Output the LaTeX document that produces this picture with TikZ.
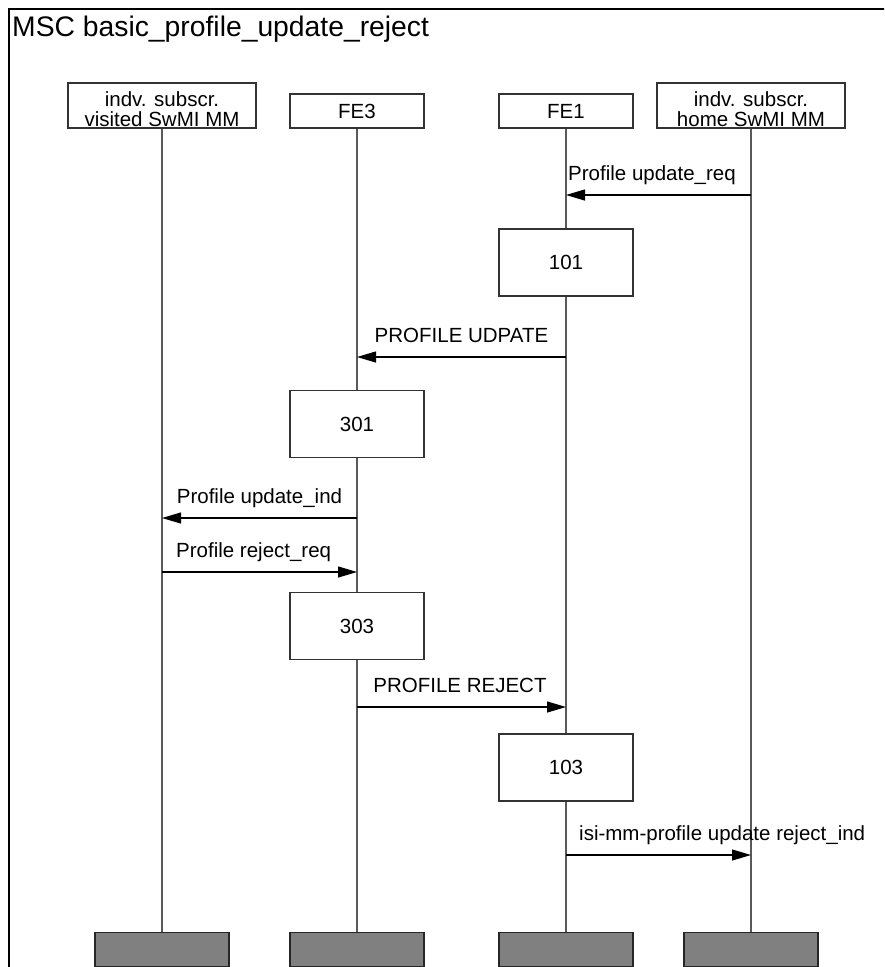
\documentclass[tikz,border=0pt]{standalone}
\usepackage{fontspec}
\setmainfont{Liberation Sans}
\usetikzlibrary{arrows.meta}
\begin{document}
\begin{tikzpicture}[x=1pt,y=-1pt,
  lbl/.style={font=\fontsize{20.5}{20}\selectfont, inner sep=0pt},
  headbox/.style={draw=black!80, line width=1.2pt, fill=white, minimum width=134pt, minimum height=34pt, inner sep=0pt, font=\fontsize{20.5}{20}\selectfont},
  widehead/.style={headbox, minimum width=188pt, minimum height=45pt},
  actbox/.style={headbox, minimum height=67pt},
  footbox/.style={draw=black!85, line width=1.2pt, fill=black!50, minimum width=134pt, minimum height=34pt, inner sep=0pt},
  life/.style={draw=black!65, line width=1.1pt},
  msg/.style={draw=black, line width=1.1pt, -{Triangle[length=19pt,width=11pt]}}
]
\useasboundingbox (0,0) rectangle (884,967);
\clip (0,0) rectangle (884,967);
\draw[line width=2pt] (9,990) -- (9,9) -- (900,9);
\node[anchor=base west, inner sep=0pt, font=\fontsize{28.3}{30}\selectfont] (title) at (12,36) {MSC basic\_profile\_update\_reject};

% heads
\node[widehead] (h1) at (162,105.5) {};
\node[lbl, align=center, anchor=north] (h1t) at (162,91) {indv. subscr.\\visited SwMI MM};
\node[headbox] (h2) at (357,111) {FE3};
\node[headbox] (h3) at (566,111) {FE1};
\node[widehead] (h4) at (751,105.5) {};
\node[lbl, align=center, anchor=north] (h4t) at (751,91) {indv. subscr.\\home SwMI MM};

% action boxes
\node[actbox] (b101) at (566,262.5) {101};
\node[actbox] (b301) at (357,424) {301};
\node[actbox] (b303) at (357,626) {303};
\node[actbox] (b103) at (566,767.5) {103};

% feet
\node[footbox] (f1) at (162,949.5) {};
\node[footbox] (f2) at (357,949.5) {};
\node[footbox] (f3) at (566,949.5) {};
\node[footbox] (f4) at (751,949.5) {};

% lifelines
\draw[life] (h1.south) -- (f1.north);
\draw[life] (h2.south) -- (b301.north);
\draw[life] (b301.south) -- (b303.north);
\draw[life] (b303.south) -- (f2.north);
\draw[life] (h3.south) -- (b101.north);
\draw[life] (b101.south) -- (b103.north);
\draw[life] (b103.south) -- (f3.north);
\draw[life] (h4.south) -- (f4.north);

% messages
\draw[msg] (h4.south |- 0,195) -- (h3.south |- 0,195);
\node[lbl, anchor=base] (m1) at (652,180) {Profile update\_req};

\draw[msg] (h3.south |- 0,357) -- (h2.south |- 0,357);
\node[lbl, anchor=base] (m2) at (461.5,342) {PROFILE UDPATE};

\draw[msg] (h2.south |- 0,518) -- (h1.south |- 0,518);
\node[lbl, anchor=base] (m3) at (259.5,503) {Profile update\_ind};

\draw[msg] (h1.south |- 0,572) -- (h2.south |- 0,572);
\node[lbl, anchor=base west] (m4) at (176,557) {Profile reject\_req};

\draw[msg] (h2.south |- 0,707) -- (h3.south |- 0,707);
\node[lbl, anchor=base] (m5) at (460,692) {PROFILE REJECT};

\draw[msg] (h3.south |- 0,855) -- (h4.south |- 0,855);
\node[lbl, anchor=base west] (m6) at (579,840) {isi-mm-profile update reject\_ind};
\end{tikzpicture}
\end{document}
